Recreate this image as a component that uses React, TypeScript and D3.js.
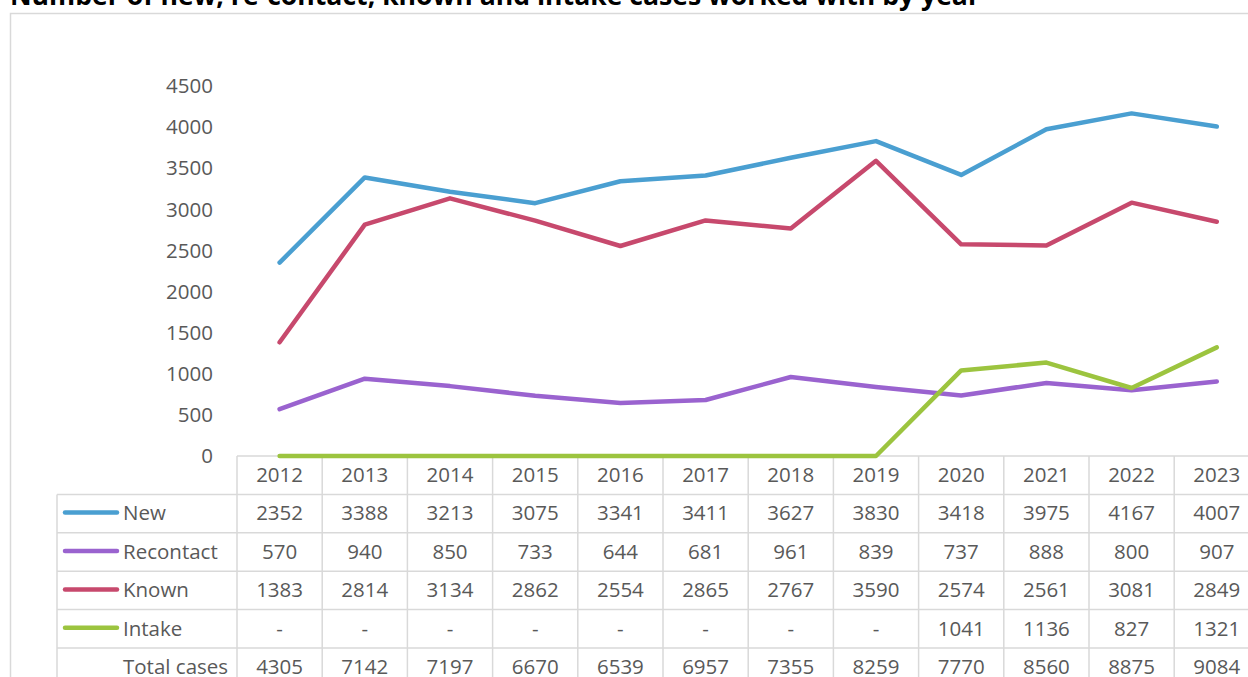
import * as d3 from 'd3';
import React from 'react';

// years on the category axis
const years = ['2012', '2013', '2014', '2015', '2016', '2017', '2018', '2019', '2020', '2021', '2022', '2023'];

const newCases = [2352, 3388, 3213, 3075, 3341, 3411, 3627, 3830, 3418, 3975, 4167, 4007];
const recontact = [570, 940, 850, 733, 644, 681, 961, 839, 737, 888, 800, 907];
const known = [1383, 2814, 3134, 2862, 2554, 2865, 2767, 3590, 2574, 2561, 3081, 2849];
const intake = [null, null, null, null, null, null, null, null, 1041, 1136, 827, 1321];
const totals = [4305, 7142, 7197, 6670, 6539, 6957, 7355, 8259, 7770, 8560, 8875, 9084];

const yTicks = [0, 500, 1000, 1500, 2000, 2500, 3000, 3500, 4000, 4500];

const series = [
  { name: 'New', values: newCases, color: '#4a9fd1' },
  { name: 'Recontact', values: recontact, color: '#9a63cf' },
  { name: 'Known', values: known, color: '#c7496d' },
  { name: 'Intake', values: intake, color: '#9cc43f' },
];

const W = 1248;
const H = 677;
const font = '"Open Sans", "Liberation Sans", sans-serif';
const grey = '#d9d9d9';
const txt = '#595959';
const fs = 20.5;

function App() {
  const left = 237;
  const colW = 85.2;
  const x = d3.scaleBand().domain(years).range([left, left + colW * years.length]);
  const y = d3.scaleLinear().domain([0, 4500]).range([456, 86]);
  const rowH = 38.4;
  const tableTop = 456;
  const labelLeft = 57;

  // "-" in the table is drawn as 0 on the chart
  const line = d3.line<number | null>()
    .x((d, i) => x(years[i])! + x.bandwidth() / 2)
    .y(d => y(d ?? 0));

  const rows = [...series.map(s => ({ name: s.name, values: s.values, color: s.color as string | null })),
    { name: 'Total cases', values: totals, color: null }];

  const tableBottom = tableTop + rowH * (rows.length + 1);

  return (
    <svg width={W} height={H} style={{ position: 'absolute', left: 0, top: 0, background: '#fff' }}>
      <text x={10} y={5} fontFamily={font} fontWeight="bold" fontSize={26} fill="#000" textLength={970} lengthAdjust="spacingAndGlyphs">
        Number of new, re-contact, known and intake cases worked with by year
      </text>
      <rect x={10.5} y={13.5} width={W + 20} height={H + 20} fill="none" stroke={grey} strokeWidth={1.5} />

      {/* y axis labels */}
      {yTicks.map(t => (
        <text key={t} x={213} y={y(t)} dy="0.35em" textAnchor="end" fontFamily={font} fontSize={fs} fill={txt}>{t}</text>
      ))}

      {/* table grid */}
      <line x1={left} x2={W + 20} y1={tableTop} y2={tableTop} stroke={grey} strokeWidth={1.5} />
      {rows.map((r, i) => (
        <line key={r.name} x1={labelLeft} x2={W + 20} y1={tableTop + rowH * (i + 1)} y2={tableTop + rowH * (i + 1)} stroke={grey} strokeWidth={1.5} />
      ))}
      <line x1={labelLeft} x2={labelLeft} y1={tableTop + rowH} y2={tableBottom} stroke={grey} strokeWidth={1.5} />
      {years.map(yr => (
        <line key={yr} x1={x(yr)} x2={x(yr)} y1={tableTop} y2={tableBottom} stroke={grey} strokeWidth={1.5} />
      ))}
      <line x1={left + colW * years.length} x2={left + colW * years.length} y1={tableTop} y2={tableBottom} stroke={grey} strokeWidth={1.5} />

      {/* header */}
      {years.map(yr => (
        <text key={yr} x={x(yr)! + x.bandwidth() / 2} y={tableTop + rowH / 2} dy="0.35em" textAnchor="middle" fontFamily={font} fontSize={fs} fill={txt}>{yr}</text>
      ))}

      {/* rows */}
      {rows.map((r, i) => {
        const cy = tableTop + rowH * (i + 1) + rowH / 2;
        return (
          <g key={r.name}>
            {r.color && <line x1={65} x2={117} y1={cy - 1} y2={cy - 1} stroke={r.color} strokeWidth={4.5} strokeLinecap="round" />}
            <text x={123} y={cy} dy="0.33em" fontFamily={font} fontSize={fs} fill={txt}>{r.name}</text>
            {r.values.map((v, j) => (
              <text key={j} x={x(years[j])! + x.bandwidth() / 2} y={cy} dy="0.33em" textAnchor="middle" fontFamily={font} fontSize={fs} fill={txt}>
                {v == null ? '-' : v}
              </text>
            ))}
          </g>
        );
      })}

      {/* lines */}
      {series.map(s => (
        <path key={s.name} d={line(s.values)!} fill="none" stroke={s.color} strokeWidth={4.5} strokeLinecap="round" strokeLinejoin="round" />
      ))}
    </svg>
  );
}

export default App;
